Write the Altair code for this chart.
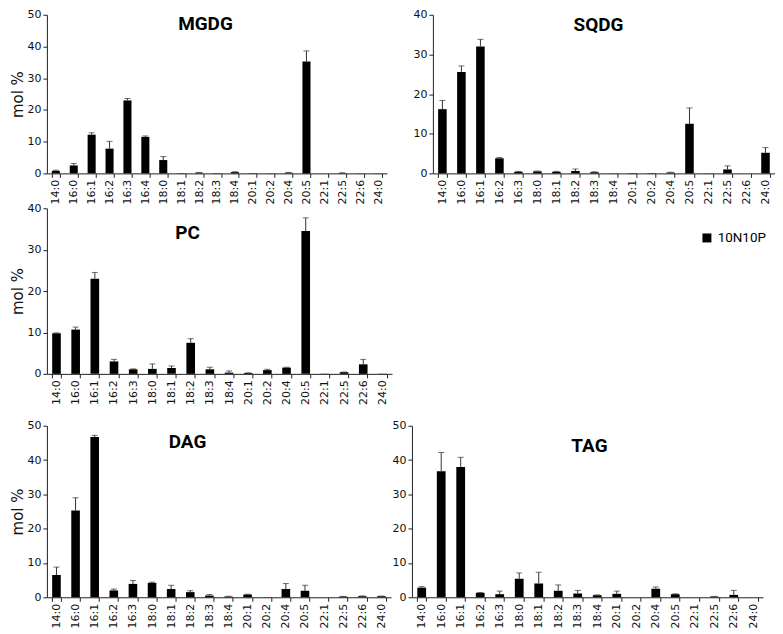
import altair as alt
import pandas as pd

# ---- categories ----
cats_mgdg = ["14:0", "16:0", "16:1", "16:2", "16:3", "16:4", "18:0", "18:1", "18:2", "18:3",
             "18:4", "20:1", "20:2", "20:4", "20:5", "22:1", "22:5", "22:6", "24:0"]
cats = ["14:0", "16:0", "16:1", "16:2", "16:3", "18:0", "18:1", "18:2", "18:3",
        "18:4", "20:1", "20:2", "20:4", "20:5", "22:1", "22:5", "22:6", "24:0"]

# ---- values (mol %) and upper error ----
mgdg_vals = [0.8, 2.5, 12.2, 7.8, 23.0, 11.5, 4.2, 0.1, 0.2, 0.1, 0.4, 0.1, 0.05, 0.2, 35.3, 0.0, 0.1, 0.05, 0.05]
mgdg_errs = [0.2, 0.6, 0.6, 2.3, 0.6, 0.3, 1.1, 0.0, 0.1, 0.0, 0.1, 0.0, 0.0, 0.1, 3.3, 0.0, 0.1, 0.0, 0.0]

sqdg_vals = [16.2, 25.6, 32.0, 3.8, 0.4, 0.5, 0.4, 0.6, 0.3, 0.05, 0.1, 0.1, 0.2, 12.5, 0.05, 1.0, 0.0, 5.2]
sqdg_errs = [2.2, 1.5, 1.8, 0.2, 0.1, 0.1, 0.1, 0.5, 0.1, 0.0, 0.0, 0.0, 0.1, 4.0, 0.0, 0.9, 0.0, 1.3]

pc_vals = [9.8, 10.7, 23.0, 3.0, 1.1, 1.2, 1.4, 7.5, 1.1, 0.3, 0.2, 0.9, 1.5, 34.5, 0.05, 0.4, 2.3, 0.05]
pc_errs = [0.1, 0.6, 1.5, 0.5, 0.1, 1.2, 0.5, 1.0, 0.5, 0.4, 0.05, 0.2, 0.1, 3.2, 0.0, 0.05, 1.2, 0.0]

dag_vals = [6.5, 25.3, 46.7, 2.0, 3.9, 4.2, 2.4, 1.5, 0.5, 0.2, 0.8, 0.05, 2.4, 1.9, 0.0, 0.2, 0.3, 0.3]
dag_errs = [2.3, 3.7, 0.5, 0.4, 1.0, 0.2, 1.1, 0.4, 0.3, 0.1, 0.1, 0.0, 1.6, 1.6, 0.0, 0.05, 0.1, 0.05]

tag_vals = [2.8, 36.7, 38.0, 1.3, 0.9, 5.4, 4.0, 1.9, 1.1, 0.6, 1.0, 0.0, 2.5, 0.9, 0.0, 0.2, 0.7, 0.0]
tag_errs = [0.3, 5.5, 2.8, 0.1, 0.9, 1.7, 3.3, 1.7, 0.9, 0.1, 0.8, 0.0, 0.5, 0.1, 0.0, 0.05, 1.3, 0.0]

series_name = "10N10P"

LABEL_FONT = "DejaVu Sans"
TITLE_FONT = "Roboto"
AX = "#222222"


def panel(name, categories, vals, errs, ymax, width, height, ytitle, tx, ty, legend=None):
    df = pd.DataFrame({"fa": categories, "v": vals, "e": errs, "s": [series_name] * len(categories)})
    xenc = alt.X("fa:N", sort=categories,
                 scale=alt.Scale(paddingInner=0.55, paddingOuter=0.275),
                 axis=alt.Axis(title=None, labelAngle=-90, tickBand="extent", tickSize=4,
                               labelFont=LABEL_FONT, labelFontSize=11, labelColor="#111",
                               labelPadding=2, domainColor=AX, tickColor=AX, labelOverlap=False))
    ticks = list(range(0, ymax + 1, 10))
    yaxis = alt.Axis(values=ticks, tickCount=len(ticks), grid=False, tickSize=4,
                     labelFont=LABEL_FONT, labelFontSize=11, labelColor="#111", labelPadding=2,
                     labelOverlap=False, domainColor=AX, tickColor=AX,
                     title=ytitle if ytitle else None, titleFont=LABEL_FONT, titleFontSize=15,
                     titleFontWeight="normal", titleColor="#111", titlePadding=1)
    yenc = alt.Y("v:Q", scale=alt.Scale(domain=[0, ymax], nice=False), axis=yaxis)
    base = alt.Chart(df)
    if legend:
        color = alt.Color("s:N", scale=alt.Scale(domain=[series_name], range=["black"]), legend=legend)
        bars = base.mark_bar().encode(x=xenc, y=yenc, color=color)
    else:
        bars = base.mark_bar(color="black").encode(x=xenc, y=yenc)
    err = base.transform_filter("datum.e > 0").transform_calculate(top="datum.v + datum.e")
    rule = err.mark_rule(color="#333333", strokeWidth=1).encode(
        x=alt.X("fa:N", sort=categories), y="v:Q", y2="top:Q")
    cap = err.mark_tick(color="#333333", thickness=1, size=6).encode(
        x=alt.X("fa:N", sort=categories), y="top:Q")
    title = alt.Chart(pd.DataFrame({"t": [name]})).mark_text(
        font=TITLE_FONT, fontSize=19, fontWeight="bold", color="black", align="center", baseline="middle"
    ).encode(text="t:N", x=alt.value(tx), y=alt.value(ty))
    return alt.layer(bars, rule, cap, title).properties(width=width, height=height)


leg = alt.Legend(title=None, orient="none", legendX=655, legendY=217, symbolType="square",
                 symbolSize=81, symbolStrokeWidth=0, labelFont=TITLE_FONT, labelFontSize=13.5,
                 labelColor="black")

mgdg = panel("MGDG", cats_mgdg, mgdg_vals, mgdg_errs, 50, 341, 159, "mol %", 159, 9)
sqdg = panel("SQDG", cats, sqdg_vals, sqdg_errs, 40, 343, 159, None, 166, 10)
pc = panel("PC", cats, pc_vals, pc_errs, 40, 346, 166, "mol %", 141, 25, legend=leg)
dag = panel("DAG", cats, dag_vals, dag_errs, 50, 345, 172, "mol %", 141, 16)
tag = panel("TAG", cats, tag_vals, tag_errs, 50, 352, 172, None, 178, 20)

row1 = alt.hconcat(mgdg, sqdg, spacing=26)
row2 = pc
row3 = alt.hconcat(dag, tag, spacing=1)

top = alt.vconcat(row1, row2, spacing=-2)
chart = alt.vconcat(top, row3, spacing=15).properties(
    padding={"left": 3, "top": 0, "right": 0, "bottom": 0}
).configure_view(strokeWidth=0).resolve_legend(color="independent")

chart.save("out.html", embed_options={"renderer": "svg", "actions": False})
